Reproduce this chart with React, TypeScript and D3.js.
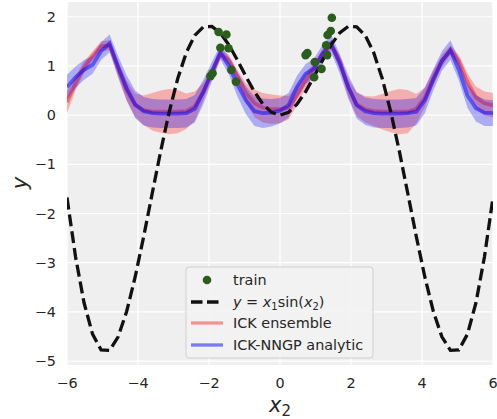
import React from "react";
import * as d3 from "d3";

const xGrid = [-6, -5.76, -5.52, -5.28, -5.04, -4.8, -4.56, -4.32, -4.08, -3.84, -3.6, -3.36, -3.12, -2.88, -2.64, -2.4, -2.16, -1.92, -1.68, -1.44, -1.2, -0.96, -0.72, -0.48, -0.24, 0, 0.24, 0.48, 0.72, 0.96, 1.2, 1.44, 1.68, 1.92, 2.16, 2.4, 2.64, 2.88, 3.12, 3.36, 3.6, 3.84, 4.08, 4.32, 4.56, 4.8, 5.04, 5.28, 5.52, 5.76, 6];

const trueY = [-1.676, -2.878, -3.815, -4.453, -4.771, -4.782, -4.507, -3.992, -3.291, -2.469, -1.593, -0.728, 0.067, 0.745, 1.269, 1.621, 1.795, 1.804, 1.67, 1.428, 1.118, 0.786, 0.475, 0.222, 0.057, 0, 0.057, 0.222, 0.475, 0.786, 1.118, 1.428, 1.67, 1.804, 1.795, 1.621, 1.269, 0.745, 0.067, -0.728, -1.593, -2.469, -3.291, -3.992, -4.507, -4.782, -4.771, -4.453, -3.815, -2.878, -1.676];

const ensMean = [0.26, 0.65, 0.97, 1.2, 1.4, 1.42, 0.95, 0.5, 0.2, 0.1, 0.07, 0.07, 0.07, 0.07, 0.08, 0.18, 0.48, 0.85, 1.25, 1.12, 0.8, 0.45, 0.24, 0.15, 0.12, 0.12, 0.15, 0.4, 0.7, 0.95, 1.25, 1.42, 1.1, 0.56, 0.22, 0.12, 0.08, 0.07, 0.07, 0.07, 0.07, 0.13, 0.36, 0.76, 1.1, 1.32, 1.1, 0.68, 0.36, 0.24, 0.2];
const ensStd = [0.22, 0.15, 0.12, 0.1, 0.1, 0.1, 0.15, 0.2, 0.24, 0.3, 0.38, 0.43, 0.46, 0.44, 0.36, 0.3, 0.18, 0.12, 0.1, 0.1, 0.12, 0.2, 0.28, 0.3, 0.3, 0.28, 0.24, 0.2, 0.15, 0.12, 0.1, 0.1, 0.12, 0.18, 0.24, 0.27, 0.3, 0.36, 0.42, 0.46, 0.44, 0.3, 0.2, 0.15, 0.12, 0.1, 0.12, 0.17, 0.22, 0.24, 0.25];

const nngpMean = [0.57, 0.77, 0.92, 1.02, 1.3, 1.46, 0.98, 0.55, 0.22, 0.08, 0.04, 0.03, 0.03, 0.03, 0.04, 0.13, 0.47, 0.88, 1.28, 1.0, 0.62, 0.3, 0.08, 0.04, 0.05, 0.09, 0.2, 0.58, 0.84, 0.95, 1.25, 1.46, 1.05, 0.58, 0.2, 0.08, 0.04, 0.03, 0.03, 0.03, 0.04, 0.07, 0.3, 0.72, 1.1, 1.32, 0.92, 0.4, 0.14, 0.05, 0.04];
const nngpStd = [0.25, 0.22, 0.2, 0.18, 0.18, 0.18, 0.22, 0.26, 0.28, 0.29, 0.29, 0.29, 0.29, 0.29, 0.29, 0.28, 0.25, 0.2, 0.15, 0.18, 0.24, 0.28, 0.3, 0.3, 0.28, 0.26, 0.25, 0.22, 0.2, 0.2, 0.18, 0.18, 0.2, 0.24, 0.27, 0.28, 0.29, 0.29, 0.29, 0.29, 0.29, 0.28, 0.26, 0.22, 0.2, 0.2, 0.22, 0.25, 0.27, 0.27, 0.26];

const trainX = [-1.96, -1.9, -1.73, -1.51, -1.68, -1.45, -1.37, -1.24, 0.72, 0.77, 0.96, 0.98, 1.17, 1.3, 1.33, 1.34, 1.43, 1.46];
const trainY = [0.79, 0.85, 1.69, 1.64, 1.37, 1.36, 0.92, 0.68, 1.22, 1.26, 0.77, 1.08, 0.94, 1.42, 1.22, 1.63, 1.71, 1.98];

const xTicks = [-6, -4, -2, 0, 2, 4, 6];
const yTicks = [-5, -4, -3, -2, -1, 0, 1, 2];

const W = 497, H = 419;
const L = 67, R = 493, T = 2, B = 365;
const FONT = "DejaVu Sans, sans-serif";
const TEXT = "#262626";

const fmt = (v: number) => (v < 0 ? "\u2212" + Math.abs(v) : String(v));

export default function App() {
  const x = d3.scaleLinear().domain([-6, 6]).range([L, R]);
  const y = d3.scaleLinear().domain([-5.08, 2.3]).range([B, T]);
  const idx = xGrid.map((_, i) => i);

  const band = (m: number[], s: number[]) =>
    d3.area<number>().x((i) => x(xGrid[i])).y0((i) => y(m[i] - s[i])).y1((i) => y(m[i] + s[i]))(idx) || "";
  const line = (m: number[]) => d3.line<number>().x((i) => x(xGrid[i])).y((i) => y(m[i]))(idx) || "";

  const lx = 186, ly = 267;
  const rows = [280, 302, 323, 345];

  return (
    <svg width={W} height={H} style={{ position: "absolute", left: 0, top: 0 }} fontFamily={FONT}>
      <defs>
        <clipPath id="plot">
          <rect x={L} y={T} width={R - L} height={B - T} />
        </clipPath>
      </defs>
      <rect x={0} y={0} width={W} height={H} fill="#ffffff" />
      <rect x={L} y={T} width={R - L} height={B - T} fill="#efefef" />
      {xTicks.map((t) => (
        <line key={"gx" + t} x1={x(t)} x2={x(t)} y1={T} y2={B} stroke="#fff" strokeWidth={1.2} />
      ))}
      {yTicks.map((t) => (
        <line key={"gy" + t} x1={L} x2={R} y1={y(t)} y2={y(t)} stroke="#fff" strokeWidth={1.2} />
      ))}
      <g clipPath="url(#plot)">
        <path d={band(ensMean, ensStd)} fill="red" fillOpacity={0.27} stroke="none" />
        <path d={line(ensMean)} fill="none" stroke="red" strokeOpacity={0.4} strokeWidth={3.8} />
        <path d={band(nngpMean, nngpStd)} fill="blue" fillOpacity={0.28} stroke="none" />
        <path d={line(nngpMean)} fill="none" stroke="blue" strokeOpacity={0.5} strokeWidth={3.8} />
        <path d={line(trueY)} fill="none" stroke="#111" strokeWidth={3.3} strokeDasharray="12 5" />
        {trainX.map((v, i) => (
          <circle key={"p" + i} cx={x(v)} cy={y(trainY[i])} r={4.3} fill="#2a5e1c" />
        ))}
      </g>
      {xTicks.map((t) => (
        <text key={"tx" + t} x={x(t)} y={388} fontSize={14.4} fill={TEXT} textAnchor="middle">
          {fmt(t)}
        </text>
      ))}
      {yTicks.map((t) => (
        <text key={"ty" + t} x={56} y={y(t) + 5} fontSize={14.4} fill={TEXT} textAnchor="end">
          {fmt(t)}
        </text>
      ))}
      <text x={269} y={412} fontSize={21} fill={TEXT} fontStyle="italic">
        x<tspan fontSize={15} fontStyle="normal" dy={4}>2</tspan>
      </text>
      <text transform="translate(26.5,183) rotate(-90)" fontSize={21} fill={TEXT} fontStyle="italic" textAnchor="middle">
        y
      </text>
      <g>
        <rect x={lx} y={ly} width={187} height={91} rx={3} fill="#f2f2f2" fillOpacity={0.85} stroke="#cfcfcf" strokeWidth={1} />
        <circle cx={207} cy={rows[0]} r={4.3} fill="#2a5e1c" />
        <line x1={191} x2={223} y1={rows[1]} y2={rows[1]} stroke="#111" strokeWidth={3.3} strokeDasharray="11.5 4.5" />
        <line x1={191} x2={223} y1={rows[2]} y2={rows[2]} stroke="red" strokeOpacity={0.4} strokeWidth={3.3} />
        <line x1={191} x2={223} y1={rows[3]} y2={rows[3]} stroke="blue" strokeOpacity={0.5} strokeWidth={3.3} />
        <text x={233} y={rows[0] + 5} fontSize={14.4} fill={TEXT}>train</text>
        <text x={233} y={rows[1] + 5} fontSize={14.4} fill={TEXT}>
          <tspan fontStyle="italic">y</tspan>
          <tspan> = </tspan>
          <tspan fontStyle="italic">x</tspan>
          <tspan fontSize={10} dy={3}>1</tspan>
          <tspan dy={-3}>sin(</tspan>
          <tspan fontStyle="italic">x</tspan>
          <tspan fontSize={10} dy={3}>2</tspan>
          <tspan dy={-3}>)</tspan>
        </text>
        <text x={233} y={rows[2] + 5} fontSize={14.4} fill={TEXT}>ICK ensemble</text>
        <text x={233} y={rows[3] + 5} fontSize={14.4} fill={TEXT}>ICK-NNGP analytic</text>
      </g>
    </svg>
  );
}
